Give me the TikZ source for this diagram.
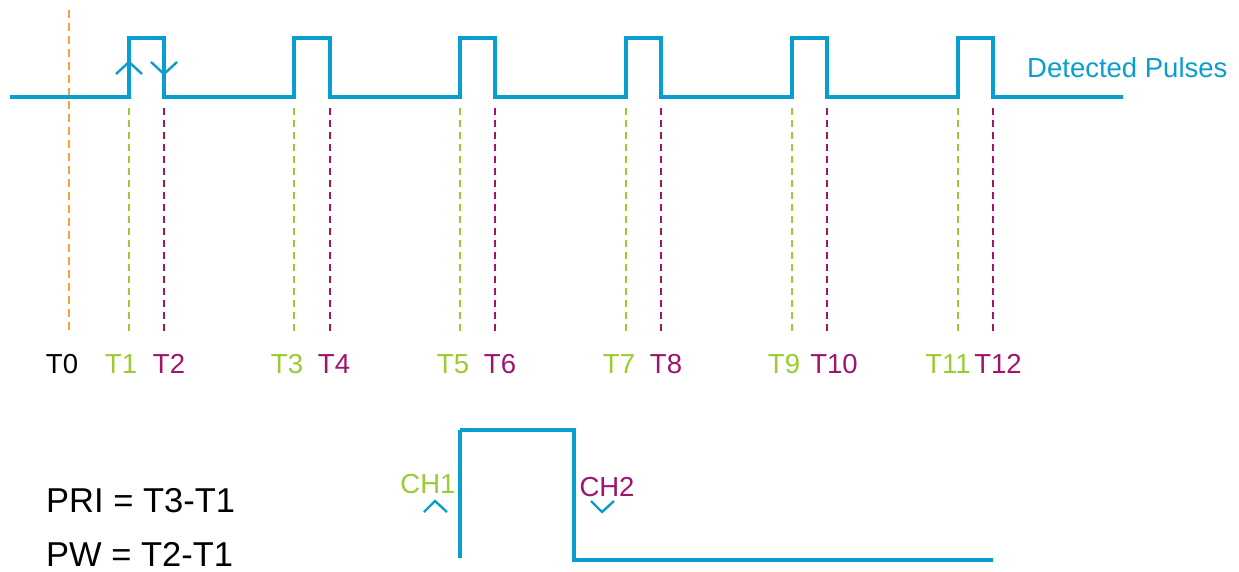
\documentclass[tikz,border=0pt]{standalone}
\usepackage{fontspec}
\setmainfont{Liberation Sans}
\definecolor{pblue}{RGB}{8,158,208}
\definecolor{pgreen}{RGB}{154,204,50}
\definecolor{ppurple}{RGB}{160,20,110}
\definecolor{porange}{RGB}{247,162,58}
\begin{document}
\begin{tikzpicture}[x=1pt,y=-1pt,
  wave/.style={draw=pblue,line width=3.6pt,line join=miter},
  chev/.style={draw=pblue,line width=2.4pt},
  gdash/.style={draw=pgreen,line width=2pt,dash pattern=on 7pt off 5pt},
  pdash/.style={draw=ppurple,line width=2pt,dash pattern=on 7pt off 5pt},
  odash/.style={draw=porange,line width=2.4pt,dash pattern=on 8pt off 5pt},
  lbl/.style={font=\fontsize{27.5}{27.5}\selectfont,inner sep=0pt,anchor=base},
  big/.style={font=\fontsize{34.5}{34.5}\selectfont,inner sep=0pt,anchor=base west}]
\useasboundingbox (0,0) rectangle (1239,571);
% T0 marker
\draw[odash] (69,10) -- (69,335);
% waveform
\draw[wave] (10,97) -- (129,97) -- (129,38) -- (164,38) -- (164,97)
  -- (294,97) -- (294,38) -- (330,38) -- (330,97)
  -- (460,97) -- (460,38) -- (495,38) -- (495,97)
  -- (626,97) -- (626,38) -- (661,38) -- (661,97)
  -- (792,97) -- (792,38) -- (827,38) -- (827,97)
  -- (958,97) -- (958,38) -- (993,38) -- (993,97)
  -- (1123,97);
\node[lbl,text=pblue,anchor=base west] (dp) at (1027,77) {Detected Pulses};
% edge chevrons
\draw[chev] (116,74) -- (129,62) -- (142,74);
\draw[chev] (151,62) -- (164,74) -- (177,62);
% dashed time markers
\foreach \x in {129,294,460,626,792,958} \draw[gdash] (\x,108) -- (\x,335);
\foreach \x in {164,330,495,661,827,993} \draw[pdash] (\x,108) -- (\x,335);
% time labels
\node[lbl] (t0) at (62,373) {T0};
\node[lbl,text=pgreen] (t1) at (121,373) {T1};
\node[lbl,text=ppurple] (t2) at (169,373) {T2};
\node[lbl,text=pgreen] (t3) at (287,373) {T3};
\node[lbl,text=ppurple] (t4) at (334,373) {T4};
\node[lbl,text=pgreen] (t5) at (453,373) {T5};
\node[lbl,text=ppurple] (t6) at (500,373) {T6};
\node[lbl,text=pgreen] (t7) at (619,373) {T7};
\node[lbl,text=ppurple] (t8) at (666,373) {T8};
\node[lbl,text=pgreen] (t9) at (784,373) {T9};
\node[lbl,text=ppurple] (t10) at (834,373) {T10};
\node[lbl,text=pgreen] (t11) at (948,373) {T11};
\node[lbl,text=ppurple] (t12) at (998,373) {T12};
% formulas
\node[big] (pri) at (46,512) {PRI = T3-T1};
\node[big] (pw) at (46,566) {PW = T2-T1};
% single pulse detail
\draw[draw=pblue,line width=4pt] (460,558) -- (460,430);
\draw[wave,line width=3.2pt] (460,430) -- (574,430) -- (574,560) -- (993,560);
\node[lbl,text=pgreen] (ch1) at (428,493) {CH1};
\node[lbl,text=ppurple] (ch2) at (607,496) {CH2};
\draw[chev] (424,512) -- (435,501) -- (447,512);
\draw[chev] (591,501) -- (602,512) -- (614,501);
\end{tikzpicture}
\end{document}
